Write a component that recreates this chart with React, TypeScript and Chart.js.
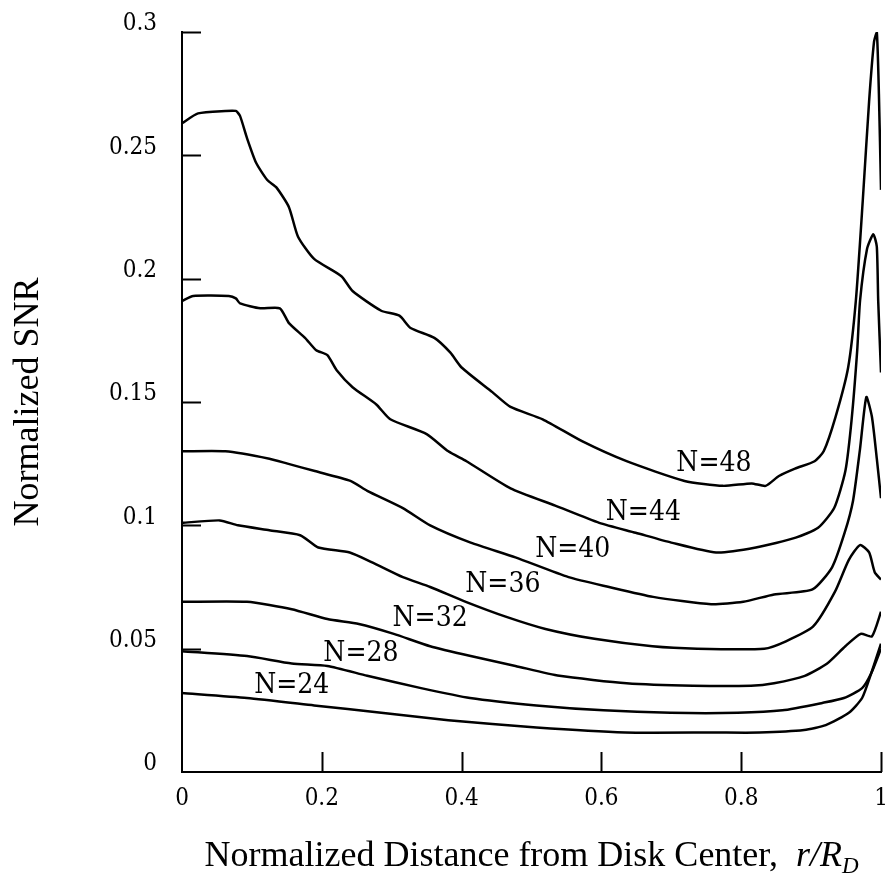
import React, { useEffect, useRef } from "react";
import { Chart, registerables } from "chart.js";

Chart.register(...registerables);

// ---- data ----
const seriesNames = ["N=48", "N=44", "N=40", "N=36", "N=32", "N=28", "N=24"];

const n48X = [0, 0.023, 0.062, 0.077, 0.083, 0.093, 0.106, 0.122, 0.135, 0.153, 0.166, 0.189, 0.228, 0.244, 0.285, 0.311, 0.327, 0.361, 0.384, 0.4, 0.444, 0.47, 0.516, 0.573, 0.636, 0.719, 0.774, 0.815, 0.835, 0.854, 0.877, 0.905, 0.918, 0.935, 0.953, 0.964, 0.974, 0.983, 0.99, 0.994, 0.997, 1.0];
const n48Y = [0.263, 0.267, 0.268, 0.268, 0.266, 0.257, 0.247, 0.24, 0.237, 0.229, 0.217, 0.208, 0.201, 0.195, 0.187, 0.185, 0.18, 0.176, 0.17, 0.164, 0.154, 0.148, 0.143, 0.134, 0.126, 0.118, 0.116, 0.117, 0.116, 0.12, 0.123, 0.126, 0.13, 0.144, 0.164, 0.191, 0.232, 0.272, 0.296, 0.3, 0.275, 0.236];

const n44X = [0, 0.016, 0.067, 0.077, 0.083, 0.112, 0.14, 0.153, 0.176, 0.192, 0.208, 0.221, 0.244, 0.278, 0.298, 0.35, 0.381, 0.407, 0.47, 0.534, 0.597, 0.649, 0.7, 0.764, 0.821, 0.878, 0.91, 0.933, 0.949, 0.958, 0.966, 0.97, 0.98, 0.989, 0.994, 0.996, 1.0];
const n44Y = [0.191, 0.193, 0.193, 0.192, 0.19, 0.188, 0.188, 0.182, 0.176, 0.171, 0.169, 0.163, 0.156, 0.149, 0.143, 0.137, 0.13, 0.126, 0.115, 0.108, 0.101, 0.097, 0.093, 0.089, 0.091, 0.095, 0.099, 0.107, 0.122, 0.143, 0.171, 0.191, 0.212, 0.218, 0.213, 0.191, 0.162];

const n40X = [0, 0.062, 0.125, 0.151, 0.19, 0.241, 0.265, 0.316, 0.355, 0.413, 0.477, 0.553, 0.611, 0.674, 0.757, 0.803, 0.847, 0.902, 0.93, 0.948, 0.96, 0.97, 0.979, 0.987, 0.994, 1.0];
const n40Y = [0.13, 0.13, 0.127, 0.125, 0.122, 0.118, 0.114, 0.107, 0.1, 0.093, 0.087, 0.079, 0.075, 0.071, 0.068, 0.069, 0.072, 0.074, 0.083, 0.097, 0.11, 0.131, 0.152, 0.144, 0.127, 0.111];

const n36X = [0, 0.054, 0.08, 0.125, 0.169, 0.195, 0.24, 0.272, 0.316, 0.355, 0.406, 0.463, 0.52, 0.59, 0.673, 0.737, 0.833, 0.864, 0.903, 0.934, 0.954, 0.97, 0.983, 0.991, 1.0];
const n36Y = [0.101, 0.102, 0.1, 0.098, 0.096, 0.091, 0.089, 0.085, 0.079, 0.075, 0.069, 0.063, 0.058, 0.054, 0.051, 0.05, 0.05, 0.053, 0.059, 0.073, 0.086, 0.092, 0.089, 0.081, 0.078];

const n32X = [0, 0.093, 0.157, 0.208, 0.253, 0.303, 0.355, 0.413, 0.477, 0.54, 0.636, 0.731, 0.814, 0.847, 0.891, 0.923, 0.949, 0.971, 0.987, 1.0];
const n32Y = [0.069, 0.069, 0.066, 0.062, 0.06, 0.056, 0.051, 0.047, 0.043, 0.039, 0.036, 0.035, 0.035, 0.036, 0.039, 0.044, 0.051, 0.056, 0.055, 0.065];

const n28X = [0, 0.093, 0.157, 0.208, 0.265, 0.342, 0.412, 0.507, 0.603, 0.699, 0.795, 0.859, 0.916, 0.947, 0.973, 0.986, 1.0];
const n28Y = [0.049, 0.047, 0.044, 0.043, 0.039, 0.034, 0.03, 0.027, 0.025, 0.024, 0.024, 0.025, 0.028, 0.03, 0.034, 0.04, 0.05];

const n24X = [0, 0.093, 0.189, 0.285, 0.381, 0.507, 0.634, 0.763, 0.826, 0.89, 0.921, 0.954, 0.973, 0.986, 1.0];
const n24Y = [0.032, 0.03, 0.027, 0.024, 0.021, 0.018, 0.016, 0.016, 0.016, 0.017, 0.019, 0.024, 0.03, 0.04, 0.052];

// curve label anchor positions (data coordinates)
const labelX = [0.761, 0.66, 0.559, 0.459, 0.355, 0.256, 0.157];
const labelY = [0.125, 0.105, 0.09, 0.076, 0.062, 0.048, 0.035];

const xTicks = [0, 0.2, 0.4, 0.6, 0.8, 1];
const yTicks = [0, 0.05, 0.1, 0.15, 0.2, 0.25, 0.3];
const xInnerTicks = [0.2, 0.4, 0.6, 0.8, 1];
const yInnerTicks = [0.05, 0.1, 0.15, 0.2, 0.25, 0.3];

const yTitle = "Normalized SNR";
const xTitleMain = "Normalized Distance from Disk Center,  ";
const xTitleVar = "r/R";
const xTitleSub = "D";

const tickFont = "'DejaVu Serif Condensed', 'DejaVu Serif', serif";

const fmt = (v: number) => String(Number(Number(v).toFixed(2)));

export default function App() {
  const ref = useRef<HTMLCanvasElement | null>(null);

  useEffect(() => {
    const canvas = ref.current;
    if (!canvas) return;
    const xs = [n48X, n44X, n40X, n36X, n32X, n28X, n24X];
    const ys = [n48Y, n44Y, n40Y, n36Y, n32Y, n28Y, n24Y];
    const datasets = seriesNames.map((name, i) => ({
      label: name,
      data: xs[i].map((x, j) => ({ x, y: ys[i][j] })),
      borderColor: "#000",
      borderWidth: 2.5,
      pointRadius: 0,
      tension: 0.2,
      fill: false,
    }));

    const decor = {
      id: "decor",
      afterDraw(chart: any) {
        const ctx = chart.ctx;
        const xs0 = chart.scales.x;
        const ys0 = chart.scales.y;
        const area = chart.chartArea;
        ctx.save();
        ctx.strokeStyle = "#000";
        ctx.lineWidth = 2;
        ctx.beginPath();
        yInnerTicks.forEach((v) => {
          const py = Math.round(ys0.getPixelForValue(v)) + 0.5;
          ctx.moveTo(area.left, py);
          ctx.lineTo(area.left + 19, py);
        });
        xInnerTicks.forEach((v) => {
          const px = Math.round(xs0.getPixelForValue(v)) + 0.5;
          ctx.moveTo(px, area.bottom);
          ctx.lineTo(px, area.bottom - 20);
        });
        ctx.stroke();

        // curve labels
        ctx.fillStyle = "#000";
        ctx.font = "28px " + tickFont;
        ctx.textAlign = "center";
        ctx.textBaseline = "middle";
        seriesNames.forEach((name, i) => {
          ctx.fillText(name, xs0.getPixelForValue(labelX[i]), ys0.getPixelForValue(labelY[i]));
        });

        // x axis title with italic variable and subscript
        const fMain = "36px 'Liberation Serif'";
        const fVar = "italic 36px 'Liberation Serif'";
        const fSub = "italic 23px 'Liberation Serif'";
        ctx.font = fMain;
        const w1 = ctx.measureText(xTitleMain).width;
        ctx.font = fVar;
        const w2 = ctx.measureText(xTitleVar).width;
        ctx.font = fSub;
        const w3 = ctx.measureText(xTitleSub).width;
        const total = w1 + w2 + w3;
        let x0 = (area.left + area.right) / 2 - total / 2;
        const base = 866;
        ctx.textAlign = "left";
        ctx.textBaseline = "alphabetic";
        ctx.font = fMain;
        ctx.fillText(xTitleMain, x0, base);
        x0 += w1;
        ctx.font = fVar;
        ctx.fillText(xTitleVar, x0, base);
        x0 += w2;
        ctx.font = fSub;
        ctx.fillText(xTitleSub, x0, base + 7);
        ctx.restore();
      },
    };

    const chart = new Chart(canvas, {
      type: "line",
      data: { datasets: datasets as any },
      options: {
        animation: false,
        responsive: false,
        maintainAspectRatio: false,
        layout: { padding: { top: 32, right: 5, bottom: 0, left: 0 } },
        plugins: { legend: { display: false }, tooltip: { enabled: false } },
        scales: {
          x: {
            type: "linear",
            min: 0,
            max: 1,
            afterFit: (s: any) => {
              s.height = 104;
              s.paddingLeft = 0;
              s.paddingRight = 0;
            },
            afterBuildTicks: (s: any) => {
              s.ticks = xTicks.map((v) => ({ value: v }));
            },
            grid: { display: false, drawTicks: false, tickLength: 0 },
            border: { display: true, color: "#000", width: 2 },
            ticks: {
              color: "#000",
              font: { family: tickFont, size: 24 },
              padding: 12,
              maxRotation: 0,
              autoSkip: false,
              callback: (v: any) => fmt(v),
            },
          },
          y: {
            type: "linear",
            min: 0,
            max: 0.3,
            afterFit: (s: any) => {
              s.width = 182;
              s.paddingTop = 0;
              s.paddingBottom = 0;
            },
            afterBuildTicks: (s: any) => {
              s.ticks = yTicks.map((v) => ({ value: v }));
            },
            grid: { display: false, drawTicks: false, tickLength: 0 },
            border: { display: true, color: "#000", width: 2 },
            ticks: {
              color: "#000",
              font: { family: tickFont, size: 24 },
              padding: 25,
              labelOffset: -8,
              autoSkip: false,
              callback: (v: any) => fmt(v),
            },
            title: {
              display: true,
              text: yTitle,
              color: "#000",
              font: { family: "Liberation Serif", size: 36 },
              padding: { top: 7, bottom: 0 },
            },
          },
        },
      },
      plugins: [decor],
    });
    return () => chart.destroy();
  }, []);

  return (
    <div style={{ position: "fixed", left: 0, top: 0, width: 886, height: 876, background: "#fff" }}>
      <canvas ref={ref} width={886} height={876} style={{ display: "block" }} />
    </div>
  );
}
